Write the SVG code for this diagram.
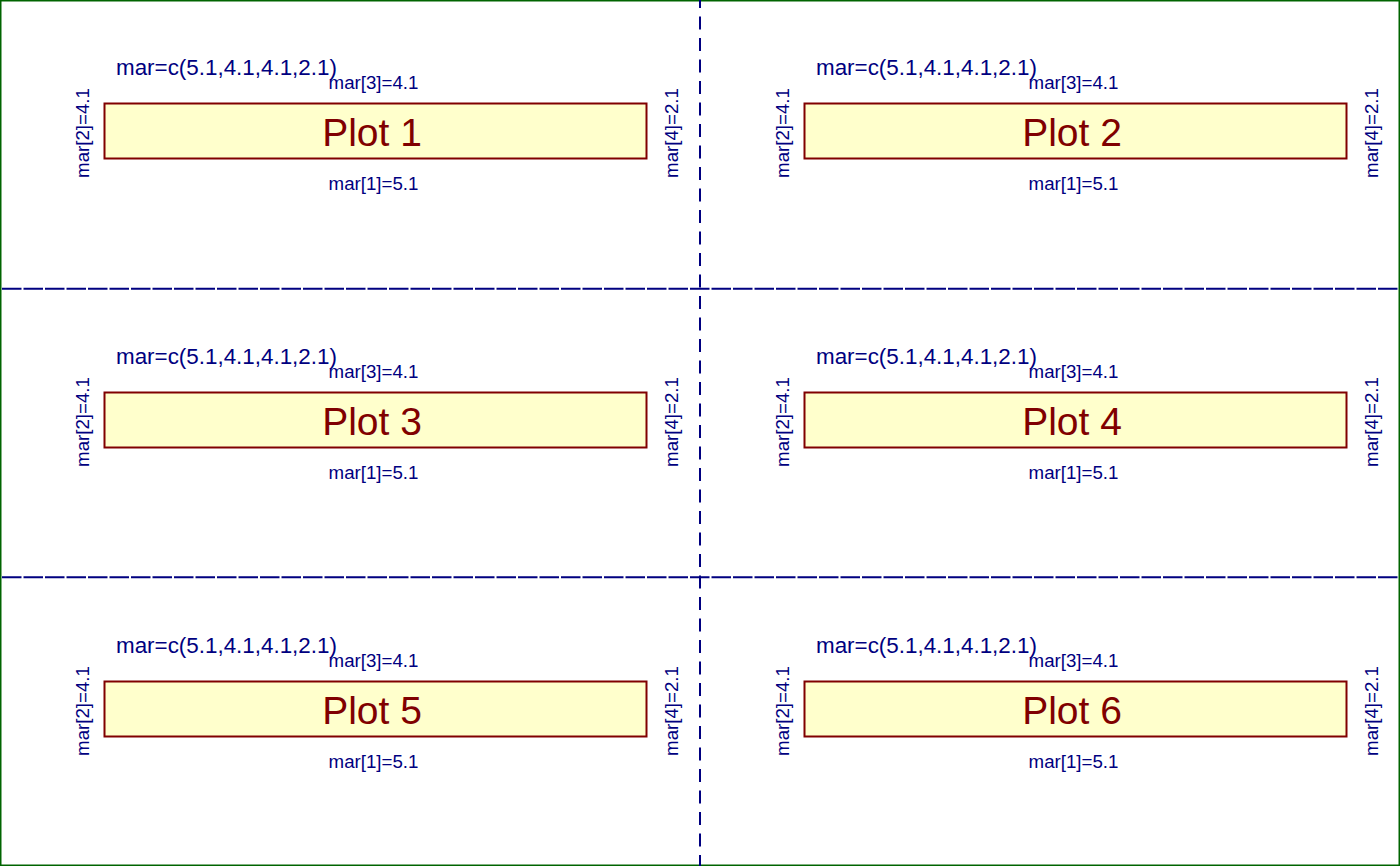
<svg xmlns="http://www.w3.org/2000/svg" width="1400" height="866" viewBox="0 0 1400 866">
<style>
.lab{font-family:"Liberation Sans",Arial,sans-serif;fill:#000080;font-size:18.7px}
.big{font-family:"Liberation Sans",Arial,sans-serif;fill:#000080;font-size:22.4px}
.title{font-family:"Liberation Sans",Arial,sans-serif;fill:#800000;font-size:39px;text-anchor:middle}
.box{fill:#ffffcc;stroke:#800000;stroke-width:2}
.hd{stroke:#000080;stroke-width:2;stroke-dasharray:19.5 2;fill:none}
.vd{stroke:#000080;stroke-width:2;stroke-dasharray:13 8.5;fill:none}
</style>
<defs>
<g id="panel">
<text class="big" x="116" y="75">mar=c(5.1,4.1,4.1,2.1)</text>
<text class="lab" x="373.5" y="89" text-anchor="middle">mar[3]=4.1</text>
<rect class="box" x="104.5" y="103.5" width="542" height="55"/>
<text class="lab" x="373.5" y="190" text-anchor="middle">mar[1]=5.1</text>
<text class="lab" transform="translate(89,133) rotate(-90)" text-anchor="middle">mar[2]=4.1</text>
<text class="lab" transform="translate(678,133) rotate(-90)" text-anchor="middle">mar[4]=2.1</text>
</g>
</defs>
<rect x="0.75" y="0.75" width="1398.5" height="864.5" fill="#ffffff" stroke="#006400" stroke-width="1.5"/>
<g id="connectors">
<line class="vd" x1="700" y1="-5" x2="700" y2="866"/>
<line class="hd" x1="2" y1="288.7" x2="1398" y2="288.7"/>
<line class="hd" x1="2" y1="577.3" x2="1398" y2="577.3"/>
</g>
<g id="plot1"><use href="#panel"/><text class="title" x="372" y="146">Plot 1</text></g>
<g id="plot2" transform="translate(700,0)"><use href="#panel"/><text class="title" x="372" y="146">Plot 2</text></g>
<g id="plot3" transform="translate(0,289)"><use href="#panel"/><text class="title" x="372" y="146">Plot 3</text></g>
<g id="plot4" transform="translate(700,289)"><use href="#panel"/><text class="title" x="372" y="146">Plot 4</text></g>
<g id="plot5" transform="translate(0,578)"><use href="#panel"/><text class="title" x="372" y="146">Plot 5</text></g>
<g id="plot6" transform="translate(700,578)"><use href="#panel"/><text class="title" x="372" y="146">Plot 6</text></g>
</svg>
